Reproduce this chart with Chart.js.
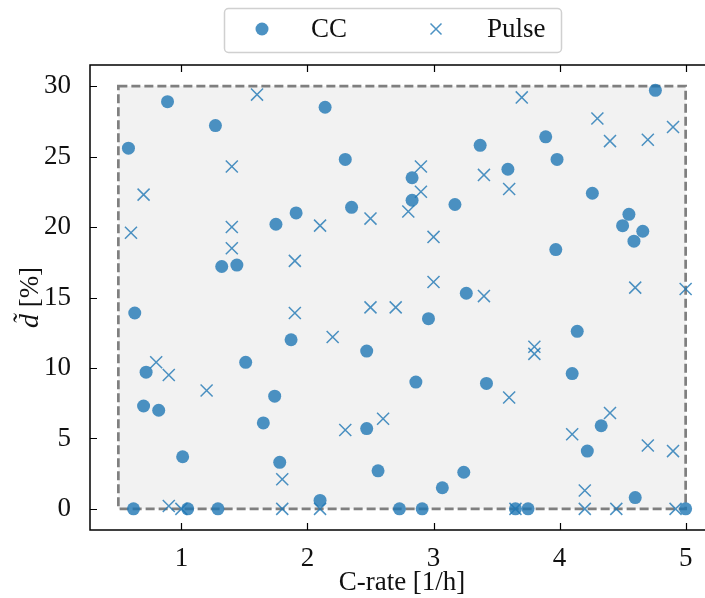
<!DOCTYPE html>
<html>
<head>
<meta charset="utf-8">
<script src="https://cdn.jsdelivr.net/npm/chart.js@4.4.1/dist/chart.umd.min.js"></script>
<style>
  html, body { margin: 0; padding: 0; background: #fff; overflow: hidden; }
</style>
</head>
<body>
<canvas id="myChart" width="730" height="598"></canvas>
<script>
// CC points
const ccX = [0.58, 0.89, 1.27, 1.32, 1.44, 2.14, 2.30, 2.35, 1.91, 1.75, 2.83, 2.83, 3.17, 3.37, 3.59, 3.89,
  3.26, 4.76, 3.98, 4.26, 4.55, 4.50, 4.66, 4.59, 3.97, 0.63, 0.72, 0.70, 0.82, 1.01, 0.62, 1.05, 1.29,
  1.51, 1.87, 1.74, 1.65, 1.78, 2.10, 2.47, 2.47, 2.56, 2.73, 2.96, 2.86, 3.42, 3.24, 3.07, 2.91, 3.65,
  3.75, 4.14, 4.10, 4.33, 4.22, 4.60, 5.00];
const ccY = [25.6, 28.9, 27.2, 17.2, 17.3, 28.5, 24.8, 21.4, 21.0, 20.2, 23.5, 21.9, 21.6, 25.8, 24.1, 26.4,
  15.3, 29.7, 24.8, 22.4, 20.9, 20.1, 19.7, 19.0, 18.4, 13.9, 9.7, 7.3, 7.0, 3.7, 0, 0, 0,
  10.4, 12.0, 8.0, 6.1, 3.3, 0.6, 11.2, 5.7, 2.7, 0, 13.5, 9.0, 8.9, 2.6, 1.5, 0, 0,
  0, 12.6, 9.6, 5.9, 4.1, 0.8, 0];

// Pulse points
const pulseX = [1.40, 0.70, 0.60, 1.40, 1.40, 1.60, 2.10, 2.50, 1.90, 3.70, 2.90, 2.90, 2.80, 3.40, 3.60,
  3.00, 3.00, 3.40, 4.30, 4.40, 4.70, 4.90, 4.60, 5.00, 0.80, 0.90, 1.20, 0.90, 1.00, 1.90, 2.20, 2.50,
  2.70, 2.30, 2.60, 1.80, 1.80, 2.10, 3.80, 3.80, 3.60, 3.65, 4.40, 4.10, 4.70, 4.90, 4.20, 4.20, 4.45, 4.92];
const pulseY = [24.3, 22.3, 19.6, 20.0, 18.5, 29.4, 20.1, 20.6, 17.6, 29.2, 24.3, 22.5, 21.1, 23.7, 22.7,
  19.3, 16.1, 15.1, 27.7, 26.1, 26.2, 27.1, 15.7, 15.6, 10.4, 9.5, 8.4, 0.2, 0, 13.9, 12.2, 14.3,
  14.3, 5.6, 6.4, 2.1, 0, 0, 11.5, 11.0, 7.9, 0, 6.8, 5.3, 4.5, 4.1, 1.3, 0, 0, 0];

const seriesNames = ['CC', 'Pulse'];
const xTicks = [1, 2, 3, 4, 5];
const yTicks = [0, 5, 10, 15, 20, 25, 30];
const regionX = [0.5, 5];
const regionY = [0, 30];
const xLabel = 'C-rate [1/h]';

const serif = "'Liberation Serif', 'DejaVu Serif', serif";
const markColor = 'rgba(31, 119, 180, 0.8)';

function toPoints(xs, ys) {
  return xs.map((x, i) => ({ x: x, y: ys[i] }));
}

// grey dashed region behind the points
const regionPlugin = {
  id: 'region',
  beforeDatasetsDraw(chart) {
    const { ctx, scales: { x, y } } = chart;
    const x0 = x.getPixelForValue(regionX[0]);
    const x1 = x.getPixelForValue(regionX[1]);
    const y0 = y.getPixelForValue(regionY[1]);
    const y1 = y.getPixelForValue(regionY[0]);
    ctx.save();
    ctx.fillStyle = '#f2f2f2';
    ctx.fillRect(x0, y0, x1 - x0, y1 - y0);
    ctx.strokeStyle = '#7f7f7f';
    ctx.lineWidth = 2.7;
    ctx.setLineDash([9, 4]);
    ctx.strokeRect(x0, y0, x1 - x0, y1 - y0);
    ctx.restore();
  }
};

// frame, inward ticks, axis labels and legend
const framePlugin = {
  id: 'frame',
  afterDraw(chart) {
    const { ctx, chartArea: a, scales: { x, y } } = chart;
    ctx.save();
    ctx.strokeStyle = '#000';
    ctx.lineWidth = 1.5;
    ctx.strokeRect(a.left, a.top, a.right - a.left, a.bottom - a.top);
    ctx.beginPath();
    xTicks.forEach(v => {
      const px = Math.round(x.getPixelForValue(v)) + 0.5;
      ctx.moveTo(px, a.bottom); ctx.lineTo(px, a.bottom - 7);
      ctx.moveTo(px, a.top); ctx.lineTo(px, a.top + 7);
    });
    yTicks.forEach(v => {
      const py = Math.round(y.getPixelForValue(v)) + 0.5;
      ctx.moveTo(a.left, py); ctx.lineTo(a.left + 7, py);
      ctx.moveTo(a.right, py); ctx.lineTo(a.right - 7, py);
    });
    ctx.lineWidth = 1.2;
    ctx.stroke();

    // x title
    ctx.fillStyle = '#111';
    ctx.font = '27px ' + serif;
    ctx.textAlign = 'center';
    ctx.textBaseline = 'alphabetic';
    ctx.fillText(xLabel, (a.left + a.right) / 2, 590);

    // y title: italic d with tilde + [%]
    ctx.translate(38, (a.top + a.bottom) / 2);
    ctx.rotate(-Math.PI / 2);
    const part1 = 'd\u0303';
    const part2 = ' [%]';
    ctx.font = 'italic 28px ' + serif;
    const w1 = ctx.measureText(part1).width;
    ctx.font = '27px ' + serif;
    const w2 = ctx.measureText(part2).width;
    const start = -(w1 + w2) / 2;
    ctx.textAlign = 'left';
    ctx.font = 'italic 28px ' + serif;
    ctx.fillText(part1, start, 0);
    ctx.font = '27px ' + serif;
    ctx.fillText(part2, start + w1, 0);
    ctx.restore();

    // legend
    ctx.save();
    ctx.beginPath();
    ctx.roundRect(224.5, 8.5, 337, 44, 4);
    ctx.fillStyle = 'rgba(255,255,255,0.9)';
    ctx.fill();
    ctx.strokeStyle = '#d0d0d0';
    ctx.lineWidth = 1.5;
    ctx.stroke();
    const markerX = [262, 436];
    const textX = [311, 487];
    const ly = 29;
    chart.data.datasets.forEach((ds, i) => {
      ctx.fillStyle = markColor;
      ctx.strokeStyle = markColor;
      if (ds.pointStyle === 'circle') {
        ctx.beginPath();
        ctx.arc(markerX[i], ly, 6.5, 0, Math.PI * 2);
        ctx.fill();
      } else {
        ctx.lineWidth = 1.5;
        ctx.beginPath();
        ctx.moveTo(markerX[i] - 5.5, ly - 5.5); ctx.lineTo(markerX[i] + 5.5, ly + 5.5);
        ctx.moveTo(markerX[i] - 5.5, ly + 5.5); ctx.lineTo(markerX[i] + 5.5, ly - 5.5);
        ctx.stroke();
      }
      ctx.fillStyle = '#111';
      ctx.font = '27px ' + serif;
      ctx.textAlign = 'left';
      ctx.textBaseline = 'middle';
      ctx.fillText(ds.label, textX[i], ly + 1);
    });
    ctx.restore();
  }
};

const ctx = document.getElementById('myChart').getContext('2d');
new Chart(ctx, {
  type: 'scatter',
  data: {
    datasets: [
      {
        label: seriesNames[0],
        data: toPoints(ccX, ccY),
        pointStyle: 'circle',
        pointRadius: 6.5,
        pointBackgroundColor: markColor,
        pointBorderWidth: 0,
        pointBorderColor: 'rgba(0,0,0,0)',
      },
      {
        label: seriesNames[1],
        data: toPoints(pulseX, pulseY),
        pointStyle: 'crossRot',
        pointRadius: 8.5,
        pointBorderWidth: 1.5,
        pointBorderColor: markColor,
        pointBackgroundColor: markColor,
      },
    ],
  },
  options: {
    responsive: false,
    animation: false,
    events: [],
    layout: {
      padding: { top: 65, right: 16, left: 0, bottom: 0 },
    },
    plugins: {
      legend: { display: false },
      tooltip: { enabled: false },
    },
    scales: {
      x: {
        type: 'linear',
        min: 0.275,
        max: 5.225,
        afterBuildTicks: scale => { scale.ticks = xTicks.map(v => ({ value: v })); },
        afterFit: scale => { scale.height = 68; },
        grid: { display: false, drawTicks: false },
        border: { display: false },
        ticks: {
          color: '#111',
          padding: 13,
          maxRotation: 0,
          font: { family: serif, size: 27 },
        },
      },
      y: {
        type: 'linear',
        min: -1.5,
        max: 31.5,
        afterBuildTicks: scale => { scale.ticks = yTicks.map(v => ({ value: v })); },
        afterFit: scale => { scale.width = 90; },
        grid: { display: false, drawTicks: false },
        border: { display: false },
        ticks: {
          color: '#111',
          padding: 19,
          font: { family: serif, size: 27 },
        },
      },
    },
  },
  plugins: [regionPlugin, framePlugin],
});
</script>
</body>
</html>
